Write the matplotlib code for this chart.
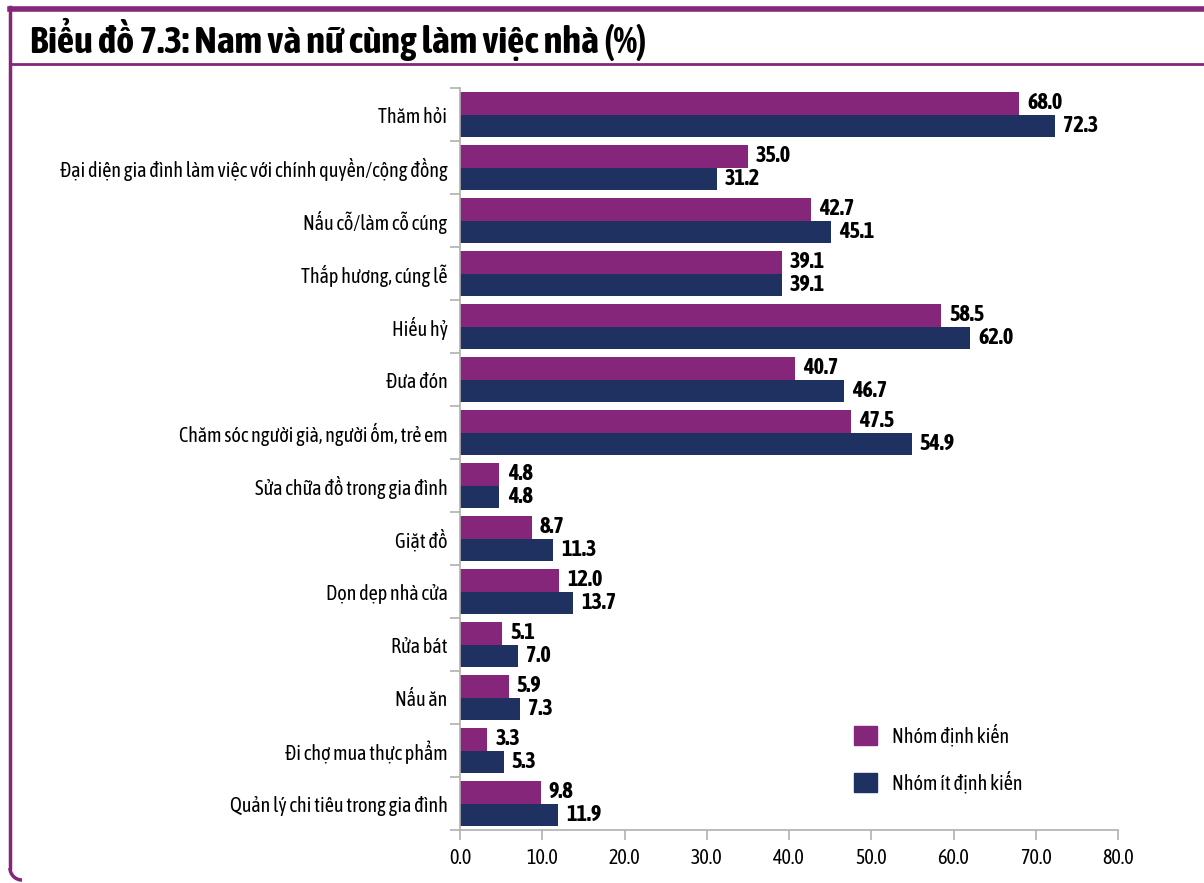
import matplotlib.pyplot as plt
import numpy as np
from matplotlib.lines import Line2D
from matplotlib.patches import Arc, Patch

plt.rcParams['font.family'] = ['Asap Condensed', 'Liberation Sans', 'DejaVu Sans']

categories = [
    "Thăm hỏi",
    "Đại diện gia đình làm việc với chính quyền/cộng đồng",
    "Nấu cỗ/làm cỗ cúng",
    "Thắp hương, cúng lễ",
    "Hiếu hỷ",
    "Đưa đón",
    "Chăm sóc người già, người ốm, trẻ em",
    "Sửa chữa đồ trong gia đình",
    "Giặt đồ",
    "Dọn dẹp nhà cửa",
    "Rửa bát",
    "Nấu ăn",
    "Đi chợ mua thực phẩm",
    "Quản lý chi tiêu trong gia đình",
]
nhom_dinh_kien = [68.0, 35.0, 42.7, 39.1, 58.5, 40.7, 47.5, 4.8, 8.7, 12.0, 5.1, 5.9, 3.3, 9.8]
nhom_it_dinh_kien = [72.3, 31.2, 45.1, 39.1, 62.0, 46.7, 54.9, 4.8, 11.3, 13.7, 7.0, 7.3, 5.3, 11.9]
x_ticks = [0, 10, 20, 30, 40, 50, 60, 70, 80]

PURPLE = "#86267a"
NAVY = "#1f3160"
W, H = 1204, 883

fig = plt.figure(figsize=(W / 100, H / 100), dpi=100)
ax = fig.add_axes([460 / W, 1 - 830 / H, (1118 - 460) / W, (830 - 88) / H])

y = np.arange(len(categories))
h = 0.42
ax.barh(y - h / 2, nhom_dinh_kien, height=h, color=PURPLE, label="Nhóm định kiến")
ax.barh(y + h / 2, nhom_it_dinh_kien, height=h, color=NAVY, label="Nhóm ít định kiến")

for yi, v1, v2 in zip(y, nhom_dinh_kien, nhom_it_dinh_kien):
    ax.text(v1 + 1.0, yi - h / 2, f"{v1:.1f}", va="center", ha="left",
            fontsize=16, fontweight="bold")
    ax.text(v2 + 1.0, yi + h / 2, f"{v2:.1f}", va="center", ha="left",
            fontsize=16, fontweight="bold")

ax.set_xlim(0, 80)
ax.set_ylim(len(categories) - 0.5, -0.5)
ax.set_xticks(x_ticks)
ax.set_xticklabels([f"{t:.1f}" for t in x_ticks], fontsize=14.5)
ax.set_yticks(y)
ax.set_yticklabels(categories, fontsize=14.5)
ax.set_yticks(np.arange(len(categories) + 1) - 0.5, minor=True)
ax.tick_params(axis="y", which="major", length=0, pad=9)
ax.tick_params(axis="y", which="minor", length=7, color="#b0b0b0", width=1.2)
ax.tick_params(axis="x", length=7, color="#b0b0b0", width=1.2, pad=6)
for side in ("top", "right"):
    ax.spines[side].set_visible(False)
for side in ("left", "bottom"):
    ax.spines[side].set_color("#b0b0b0")
    ax.spines[side].set_linewidth(1.2)

handles = [Patch(color=PURPLE), Patch(color=NAVY)]
fig.legend(handles, ["Nhóm định kiến", "Nhóm ít định kiến"],
           loc="upper left", bbox_to_anchor=(836 / W, 1 - 706 / H),
           frameon=False, fontsize=14.5, handlelength=1.14, handleheight=1.07,
           labelspacing=1.2, handletextpad=0.72)

# khung tiêu đề
fig.add_artist(Line2D([10 / W, 1], [1 - 9 / H] * 2, color=PURPLE, lw=4))
fig.add_artist(Line2D([10 / W, 1], [1 - 64 / H] * 2, color=PURPLE, lw=2))
fig.add_artist(Line2D([10 / W, 10 / W], [1 - 7 / H, 1 - 868 / H], color=PURPLE, lw=2.5))
fig.add_artist(Arc((22 / W, 1 - 868 / H), 24 / W, 24 / H, theta1=180, theta2=270,
                   color=PURPLE, lw=2.5, transform=fig.transFigure))
fig.text(30 / W, 1 - 39 / H, "Biểu đồ 7.3: Nam và nữ cùng làm việc nhà (%)",
         fontsize=27.5, fontweight="bold", va="center", ha="left")

fig.savefig("out.png", dpi=100)
